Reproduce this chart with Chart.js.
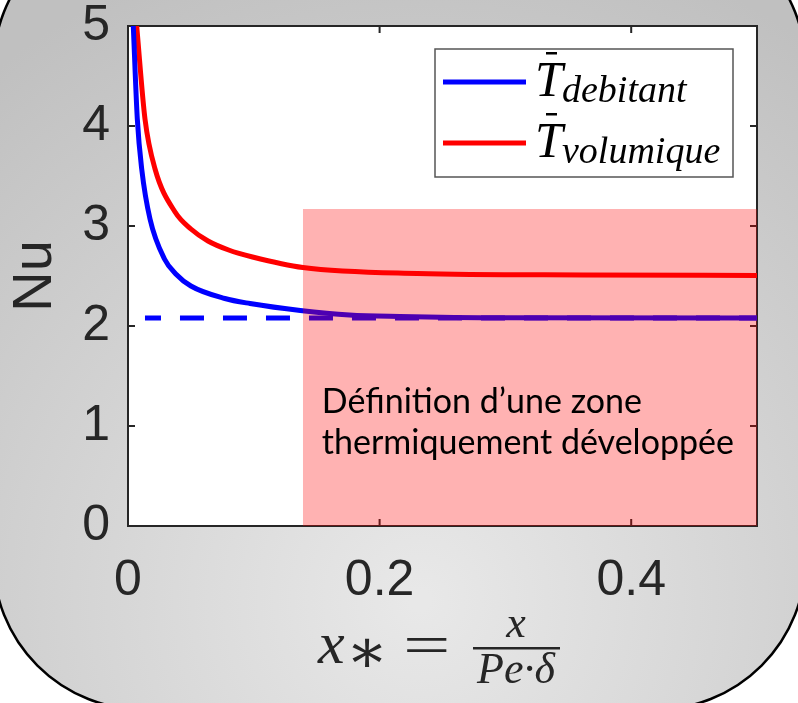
<!DOCTYPE html>
<html>
<head>
<meta charset="utf-8">
<script src="https://cdn.jsdelivr.net/npm/chart.js@4.4.1/dist/chart.umd.min.js"></script>
<style>
html, body { margin: 0; padding: 0; background: #fff; }
</style>
</head>
<body>
<canvas id="nusselt" width="798" height="703"></canvas>
<script>
// Nu along the channel, x* = x / (Pe.delta)
var debitantX = [0.0042, 0.0074, 0.0109, 0.0175, 0.029, 0.038, 0.05, 0.077, 0.097, 0.137, 0.176, 0.216, 0.30, 0.50]
var debitantY = [5.0, 4.07, 3.57, 3.07, 2.67, 2.52, 2.40, 2.275, 2.225, 2.155, 2.11, 2.095, 2.082, 2.08]

var volumiqueX = [0.0069, 0.0135, 0.0215, 0.0374, 0.05, 0.0636, 0.08, 0.099, 0.139, 0.23, 0.362, 0.50]
var volumiqueY = [5.0, 4.07, 3.57, 3.14, 2.97, 2.85, 2.76, 2.69, 2.585, 2.525, 2.51, 2.505]

// asymptote for the fully developed regime
var asymptoteX = [0.0135, 0.50]
var asymptoteNu = 2.08

// developed zone
var zoneX = [0.139, 0.50]
var zoneTop = 3.17

var xTicks = [0, 0.2, 0.4]
var yTicks = [0, 1, 2, 3, 4, 5]

var legendNames = ['debitant', 'volumique']
var zoneText = ['Définition d\u2019une zone', 'thermiquement développée']

function toPoints(xs, ys) {
    return xs.map(function(x, i) { return {x: x, y: ys[i]} })
}

var sans = '"Liberation Sans", Arial, Helvetica, sans-serif'
var serif = '"Liberation Serif", "DejaVu Serif", serif'

var decor = {
    id: 'decor',
    beforeDraw: function(chart) {
        var ctx = chart.ctx
        ctx.save()
        ctx.fillStyle = '#fff'
        ctx.fillRect(0, 0, chart.width, chart.height)
        var g = ctx.createRadialGradient(420, 600, 10, 420, 600, 680)
        g.addColorStop(0, '#e8e8e8')
        g.addColorStop(1, '#c0c0c0')
        ctx.beginPath()
        ctx.roundRect(-6.5, -83, 812, 792.5, 150)
        ctx.fillStyle = g
        ctx.fill()
        ctx.lineWidth = 2.5
        ctx.strokeStyle = '#000'
        ctx.stroke()
        ctx.restore()
    },
    beforeDatasetsDraw: function(chart) {
        var a = chart.chartArea, ctx = chart.ctx
        var xs = chart.scales.x, ys = chart.scales.y
        ctx.save()
        ctx.fillStyle = '#fff'
        ctx.fillRect(a.left, a.top, a.right - a.left, a.bottom - a.top)
        ctx.strokeStyle = '#262626'
        ctx.lineWidth = 2
        ctx.strokeRect(a.left, a.top, a.right - a.left, a.bottom - a.top)
        ctx.beginPath()
        xTicks.forEach(function(v) {
            var px = xs.getPixelForValue(v)
            ctx.moveTo(px, a.bottom); ctx.lineTo(px, a.bottom - 7)
            ctx.moveTo(px, a.top); ctx.lineTo(px, a.top + 7)
        })
        yTicks.forEach(function(v) {
            var py = ys.getPixelForValue(v)
            ctx.moveTo(a.left, py); ctx.lineTo(a.left + 7, py)
            ctx.moveTo(a.right, py); ctx.lineTo(a.right - 7, py)
        })
        ctx.stroke()
        ctx.restore()
    },
    afterDatasetsDraw: function(chart) {
        var ctx = chart.ctx
        var xs = chart.scales.x
        ctx.save()

        // zone caption
        ctx.fillStyle = '#000'
        ctx.font = '34px Lato, "Open Sans", sans-serif'
        ctx.textBaseline = 'alphabetic'
        ctx.textAlign = 'left'
        var tx = xs.getPixelForValue(zoneX[0]) + 19
        ctx.fillText(zoneText[0], tx, 413)
        ctx.fillText(zoneText[1], tx, 454)

        // legend
        ctx.fillStyle = '#fff'
        ctx.fillRect(435, 49, 298, 128)
        ctx.strokeStyle = '#555'
        ctx.lineWidth = 1.5
        ctx.strokeRect(435, 49, 298, 128)
        var colors = ['#0000ff', '#ff0000']
        legendNames.forEach(function(name, i) {
            var ly = 82 + i * 61
            ctx.strokeStyle = colors[i]
            ctx.lineWidth = 5
            ctx.beginPath()
            ctx.moveTo(443, ly); ctx.lineTo(526, ly)
            ctx.stroke()
            ctx.fillStyle = '#000'
            ctx.font = 'italic 50px ' + serif
            ctx.fillText('T', 535, ly + 14)
            ctx.fillRect(546, ly - 30, 11, 2.5)
            ctx.font = 'italic 38px ' + serif
            ctx.fillText(name, 562, ly + 20)
        })

        // x axis title: x* = x / (Pe.delta)
        ctx.fillStyle = '#262626'
        ctx.font = 'italic 60px ' + serif
        ctx.fillText('x', 318, 663)
        ctx.font = '62px ' + serif
        ctx.fillText('\u2217', 346, 672)
        ctx.save()
        ctx.translate(403, 664)
        ctx.scale(1.45, 1)
        ctx.font = '58px ' + serif
        ctx.fillText('=', 0, 0)
        ctx.restore()
        ctx.fillRect(473, 647, 87, 2.5)
        ctx.textAlign = 'center'
        ctx.font = 'italic 44px ' + serif
        ctx.fillText('x', 516, 637)
        ctx.fillText('Pe\u00b7\u03b4', 516, 683)

        ctx.restore()
    }
}

var zoneData = {
    label: 'zone',
    data: toPoints(zoneX, [zoneTop, zoneTop]),
    showLine: true,
    fill: 'origin',
    backgroundColor: 'rgba(255,0,0,0.3)',
    borderWidth: 0,
    pointRadius: 0,
    order: 0
}

var debitantData = {
    label: 'debitant',
    data: toPoints(debitantX, debitantY),
    showLine: true,
    borderColor: '#0000ff',
    borderWidth: 5,
    pointRadius: 0,
    cubicInterpolationMode: 'monotone',
    order: 1
}

var volumiqueData = {
    label: 'volumique',
    data: toPoints(volumiqueX, volumiqueY),
    showLine: true,
    borderColor: '#ff0000',
    borderWidth: 5,
    pointRadius: 0,
    cubicInterpolationMode: 'monotone',
    order: 1
}

var asymptoteData = {
    label: 'asymptote',
    data: toPoints(asymptoteX, [asymptoteNu, asymptoteNu]),
    showLine: true,
    borderColor: '#0000ff',
    borderWidth: 5,
    borderDash: [24, 19],
    borderDashOffset: 8,
    pointRadius: 0,
    order: 1
}

var canvas = document.querySelector('#nusselt')
var nuChart = new Chart(canvas, {
    type: 'scatter',
    data: {
        datasets: [zoneData, debitantData, volumiqueData, asymptoteData]
    },
    options: {
        responsive: false,
        animation: false,
        devicePixelRatio: 1,
        layout: { padding: { top: 26, right: 41, left: 0, bottom: 0 } },
        plugins: { legend: { display: false }, tooltip: { enabled: false } },
        scales: {
            x: {
                type: 'linear',
                min: 0, max: 0.5,
                afterFit: function(s) {
                    s.height = 177
                    s.paddingLeft = 0
                    s.paddingRight = 0
                },
                grid: { display: false, drawTicks: false },
                border: { display: false },
                ticks: {
                    stepSize: 0.2,
                    includeBounds: false,
                    autoSkip: false,
                    maxRotation: 0,
                    padding: 25,
                    color: '#262626',
                    font: { family: sans, size: 50 },
                    callback: function(v) { return String(+v.toFixed(1)) }
                }
            },
            y: {
                min: 0, max: 5,
                afterFit: function(s) {
                    s.width = 128
                    s.paddingTop = 0
                    s.paddingBottom = 0
                },
                grid: { display: false, drawTicks: false },
                border: { display: false },
                title: {
                    display: true,
                    text: 'Nu',
                    color: '#262626',
                    padding: 2,
                    font: { family: sans, size: 56 }
                },
                ticks: {
                    stepSize: 1,
                    padding: 18,
                    color: '#262626',
                    font: { family: sans, size: 50 }
                }
            }
        }
    },
    plugins: [decor]
})
</script>
</body>
</html>
